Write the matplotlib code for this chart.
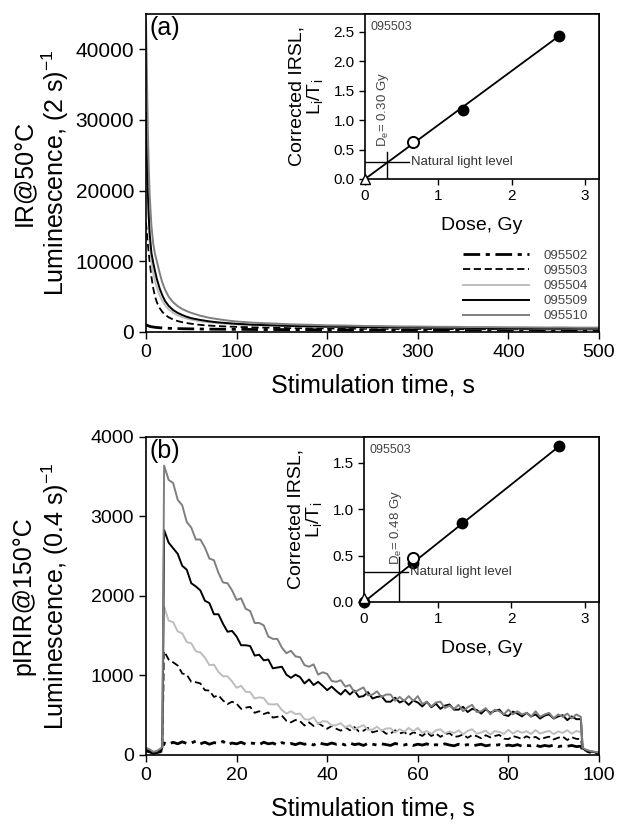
import matplotlib
matplotlib.use("Agg")
import matplotlib.pyplot as plt

plt.rcParams['font.family'] = ['Liberation Sans', 'DejaVu Sans']
plt.rcParams['mathtext.fontset'] = 'custom'
plt.rcParams['mathtext.rm'] = 'Liberation Sans'
plt.rcParams['mathtext.it'] = 'Liberation Sans:italic'

labels = ['095502', '095503', '095504', '095509', '095510']

# (a) IR@50 decay curves, 2 s channels
t_a = [0, 1, 2, 3, 4, 6, 8, 10, 12, 15, 18, 21, 25, 30, 35, 40, 45, 50, 60, 70, 80, 90, 100,
       120, 140, 160, 180, 200, 220, 240, 260, 280, 300, 320, 340, 360, 380, 400, 420, 440, 460, 480, 500]
a_095502 = [1000, 950, 900, 850, 800, 740, 700, 660, 630, 600, 570, 550, 520, 500, 480, 460, 450, 440, 420, 400, 390, 380, 370,
            350, 345, 325, 325, 305, 310, 290, 300, 280, 290, 270, 280, 262, 272, 255, 265, 250, 258, 245, 252]
a_095503 = [15500, 14000, 12600, 11200, 10000, 7800, 6200, 5000, 4200, 3400, 2850, 2450, 2080, 1760, 1540, 1380, 1260, 1160, 1000, 900, 830, 770, 720,
            650, 610, 550, 540, 490, 490, 450, 455, 420, 430, 400, 410, 380, 395, 370, 385, 360, 375, 350, 365]
a_095504 = [40000, 30000, 22000, 16500, 13000, 10000, 8300, 7200, 6300, 5200, 4400, 3800, 3200, 2700, 2350, 2100, 1900, 1750, 1520, 1360, 1240, 1140, 1060,
            950, 880, 800, 770, 710, 700, 650, 640, 600, 600, 560, 565, 530, 540, 510, 520, 490, 500, 475, 485]
a_095509 = [31000, 25000, 20000, 16500, 14000, 11200, 9800, 8600, 7500, 6200, 5200, 4400, 3700, 3100, 2700, 2400, 2150, 1950, 1700, 1500, 1350, 1250, 1150,
            1020, 940, 850, 810, 750, 730, 680, 670, 630, 625, 590, 595, 560, 565, 540, 545, 520, 530, 505, 515]
a_095510 = [44000, 36500, 29000, 23500, 19500, 15000, 12500, 11000, 10000, 8400, 7000, 6000, 5000, 4200, 3650, 3250, 2950, 2700, 2300, 2000, 1800, 1620, 1480,
            1300, 1200, 1080, 1020, 940, 910, 850, 830, 780, 770, 730, 725, 690, 690, 660, 655, 630, 640, 610, 615]

# (b) pIRIR@150 decay curves, 0.4 s channels (background, stimulation 4-96 s, background)
t_b = [0, 0.8, 1.6, 2.4, 3.2, 3.6] + list(range(4, 97)) + [96.4, 97, 98, 99, 100]
b_095502 = [50, 40, 20, 30, 40, 60,
            150, 135, 160, 140, 165, 145, 150, 175, 140, 160,
            135, 155, 145, 170, 130, 150, 140, 160, 135, 150,
            145, 130, 160, 140, 150, 125, 155, 140, 145, 130,
            150, 135, 145, 125, 155, 140, 130, 150, 135, 145,
            125, 150, 130, 140, 120, 145, 135, 125, 140, 130,
            120, 145, 130, 125, 140, 120, 135, 125, 140, 115,
            130, 120, 140, 125, 115, 135, 120, 130, 115, 125,
            135, 115, 125, 120, 130, 110, 125, 115, 130, 110,
            120, 115, 125, 105, 120, 110, 125, 105, 115, 110,
            120, 105, 110,
            60, 50, 35, 25, 20]
b_095503 = [60, 40, 20, 30, 50, 70,
            1305, 1200, 1165, 1125, 1025, 1010, 920, 915, 900, 815,
            810, 730, 750, 685, 640, 670, 645, 580, 595, 605,
            530, 550, 515, 535, 470, 480, 495, 430, 410, 440,
            425, 370, 410, 365, 400, 365, 330, 365, 330, 305,
            350, 310, 350, 295, 305, 340, 285, 301, 312, 268,
            269, 310, 271, 287, 248, 285, 267, 239, 286, 238,
            270, 228, 261, 274, 227, 235, 258, 216, 249, 237,
            210, 248, 221, 239, 252, 205, 199, 238, 222, 201,
            235, 209, 228, 192, 216, 230, 195, 217, 231, 188,
            223, 202, 202,
            70, 55, 40, 30, 20]
b_095504 = [80, 60, 35, 45, 70, 90,
            1865, 1690, 1670, 1555, 1530, 1420, 1405, 1305, 1290, 1225,
            1130, 1135, 1045, 990, 990, 925, 845, 870, 795, 790,
            710, 725, 715, 640, 635, 640, 565, 520, 550, 515,
            520, 450, 445, 475, 390, 425, 420, 370, 375, 400,
            345, 375, 320, 350, 375, 315, 320, 355, 305, 333,
            335, 282, 325, 293, 340, 298, 340, 278, 301, 265,
            309, 323, 272, 296, 275, 310, 259, 303, 323, 267,
            282, 306, 256, 300, 290, 265, 316, 269, 304, 279,
            299, 263, 313, 268, 288, 303, 262, 297, 277, 312,
            267, 302, 287,
            85, 65, 50, 40, 30]
b_095509 = [70, 50, 30, 40, 60, 90,
            2830, 2670, 2600, 2530, 2380, 2330, 2160, 2120, 2070, 1940,
            1910, 1770, 1770, 1650, 1550, 1560, 1490, 1380, 1380, 1370,
            1250, 1260, 1190, 1200, 1090, 1100, 1110, 1010, 970, 1010,
            980, 900, 950, 880, 920, 870, 815, 860, 805, 760,
            820, 760, 810, 730, 740, 790, 710, 730, 740, 670,
            670, 720, 660, 685, 630, 685, 660, 610, 670, 600,
            645, 580, 620, 635, 570, 570, 605, 540, 580, 565,
            520, 575, 530, 555, 570, 505, 490, 545, 520, 485,
            530, 485, 510, 458, 495, 510, 458, 485, 500, 438,
            485, 450, 450,
            80, 60, 45, 35, 25]
b_095510 = [90, 70, 40, 50, 80, 100,
            3640, 3460, 3420, 3210, 3140, 2930, 2860, 2710, 2710, 2610,
            2470, 2450, 2290, 2170, 2160, 2070, 1950, 1970, 1840, 1810,
            1660, 1660, 1630, 1490, 1460, 1460, 1350, 1280, 1310, 1240,
            1230, 1130, 1110, 1140, 1010, 1040, 1020, 930, 920, 940,
            860, 880, 790, 820, 850, 750, 760, 800, 730, 760,
            760, 680, 730, 680, 740, 680, 740, 640, 670, 610,
            660, 670, 590, 620, 580, 630, 550, 600, 630, 540,
            550, 590, 510, 570, 550, 510, 570, 510, 550, 510,
            530, 480, 550, 480, 510, 530, 460, 510, 480, 520,
            460, 510, 480,
            90, 70, 50, 40, 30]

# dose response insets (sample 095503)
ia_nat_dose, ia_nat = [0.0], [0.0]
ia_rec_dose, ia_rec = [0.66], [0.62]
ia_reg_dose, ia_reg = [1.33, 2.65], [1.17, 2.43]
ia_fit_dose, ia_fit = [0.0, 2.65], [0.0, 2.43]
ia_level, ia_de = 0.28, 0.30

ib_nat_dose, ib_nat = [0.0], [0.04]
ib_rec_dose, ib_rec = [0.66], [0.47]
ib_reg_dose, ib_reg = [0.0, 0.66, 1.33, 2.65], [0.0, 0.42, 0.85, 1.68]
ib_fit_dose, ib_fit = [0.0, 2.65], [0.0, 1.68]
ib_level, ib_de = 0.32, 0.48

styles = {
    '095502': dict(color='black', lw=2.0, ls=(0, (6, 2, 1.5, 2))),
    '095503': dict(color='black', lw=1.3, ls=(0, (4, 2))),
    '095504': dict(color='#bdbdbd', lw=1.4, ls='-'),
    '095509': dict(color='black', lw=1.4, ls='-'),
    '095510': dict(color='#7f7f7f', lw=1.4, ls='-'),
}

fig = plt.figure(figsize=(6.17, 8.26), dpi=100)
ax_a = fig.add_axes([0.2366, 0.5981, 0.7342, 0.3850])
ax_b = fig.add_axes([0.2366, 0.0860, 0.7342, 0.3850])
in_a = fig.add_axes([0.5916, 0.7833, 0.3792, 0.1998])
in_b = fig.add_axes([0.5899, 0.2712, 0.3809, 0.1998])

for lab, ys in zip(labels, [a_095502, a_095503, a_095504, a_095509, a_095510]):
    ax_a.plot(t_a, ys, label=lab, **styles[lab])
for lab, ys in zip(labels, [b_095502, b_095503, b_095504, b_095509, b_095510]):
    ax_b.plot(t_b, ys, label=lab, **styles[lab])

ax_a.set_xlim(0, 500)
ax_a.set_ylim(0, 45000)
ax_a.set_xticks([0, 100, 200, 300, 400, 500])
ax_a.set_yticks([0, 10000, 20000, 30000, 40000])
ax_b.set_xlim(0, 100)
ax_b.set_ylim(0, 4000)
ax_b.set_xticks([0, 20, 40, 60, 80, 100])
ax_b.set_yticks([0, 1000, 2000, 3000, 4000])

ax_a.set_ylabel('IR@50°C\nLuminescence, (2 s)$^{-1}$', fontsize=18, linespacing=1.15)
ax_b.set_ylabel('pIRIR@150°C\nLuminescence, (0.4 s)$^{-1}$', fontsize=18, linespacing=1.15)
for ax, tag in [(ax_a, '(a)'), (ax_b, '(b)')]:
    ax.set_xlabel('Stimulation time, s', fontsize=18, labelpad=9)
    ax.yaxis.set_label_coords(-0.166, 0.5)
    ax.tick_params(direction='out', length=5, width=1, labelsize=14)
    for s in ax.spines.values():
        s.set_linewidth(1.2)
    ax.text(0.008, 0.995, tag, transform=ax.transAxes, fontsize=18, va='top', ha='left')
ax_a.tick_params(axis='y', labelsize=15)

leg = ax_a.legend(loc='lower right', bbox_to_anchor=(0.975, 0.03), frameon=False,
                  fontsize=9.5, handlelength=5.0, handletextpad=1.1, labelspacing=0.22,
                  borderaxespad=0, borderpad=0)
for txt in leg.get_texts():
    txt.set_color('#444444')


def draw_inset(ax, nat_d, nat, rec_d, rec, reg_d, reg, fit_d, fit, level, de, ymax, yticks, de_y):
    ax.plot(fit_d, fit, color='black', lw=1.3, zorder=2)
    ax.plot([0, 0.6], [level, level], color='black', lw=1.0, zorder=2)
    ax.plot([de, de], [0, level + 0.17], color='black', lw=1.0, zorder=2)
    ax.plot(reg_d, reg, 'o', color='black', ms=7.5, clip_on=False, zorder=3)
    ax.plot(rec_d, rec, 'o', mfc='white', mec='black', mew=1.4, ms=8, clip_on=False, zorder=4)
    ax.plot(nat_d, nat, '^', mfc='white', mec='black', mew=1.0, ms=7, clip_on=False, zorder=5)
    ax.text(0.63, level, 'Natural light level', fontsize=9.5, color='#333333', va='center', ha='left')
    ax.text(de - 0.05, de_y, 'D$_\\mathregular{e}$= %.2f Gy' % de, fontsize=9.5, color='#444444',
            rotation=90, va='center', ha='center')
    ax.text(0.025, 0.96, '095503', transform=ax.transAxes, fontsize=9, color='#444444', va='top', ha='left')
    ax.set_xlim(0, 3.19)
    ax.set_ylim(0, ymax)
    ax.set_xticks([0, 1, 2, 3])
    ax.set_yticks(yticks)
    ax.set_yticklabels(['%.1f' % v for v in yticks])
    ax.tick_params(direction='out', length=4, width=1, labelsize=11)
    ax.set_xlabel('Dose, Gy', fontsize=14, labelpad=10)
    ax.set_ylabel('Corrected IRSL,\nL$_\\mathregular{i}$/T$_\\mathregular{i}$', fontsize=14, linespacing=1.0)
    ax.yaxis.set_label_coords(-0.17, 0.5)
    for s in ax.spines.values():
        s.set_linewidth(1.2)


draw_inset(in_a, ia_nat_dose, ia_nat, ia_rec_dose, ia_rec, ia_reg_dose, ia_reg,
           ia_fit_dose, ia_fit, ia_level, ia_de, 2.8, [0, 0.5, 1.0, 1.5, 2.0, 2.5], 1.18)
draw_inset(in_b, ib_nat_dose, ib_nat, ib_rec_dose, ib_rec, ib_reg_dose, ib_reg,
           ib_fit_dose, ib_fit, ib_level, ib_de, 1.78, [0, 0.5, 1.0, 1.5], 0.8)

fig.savefig('out.png', dpi=100)
